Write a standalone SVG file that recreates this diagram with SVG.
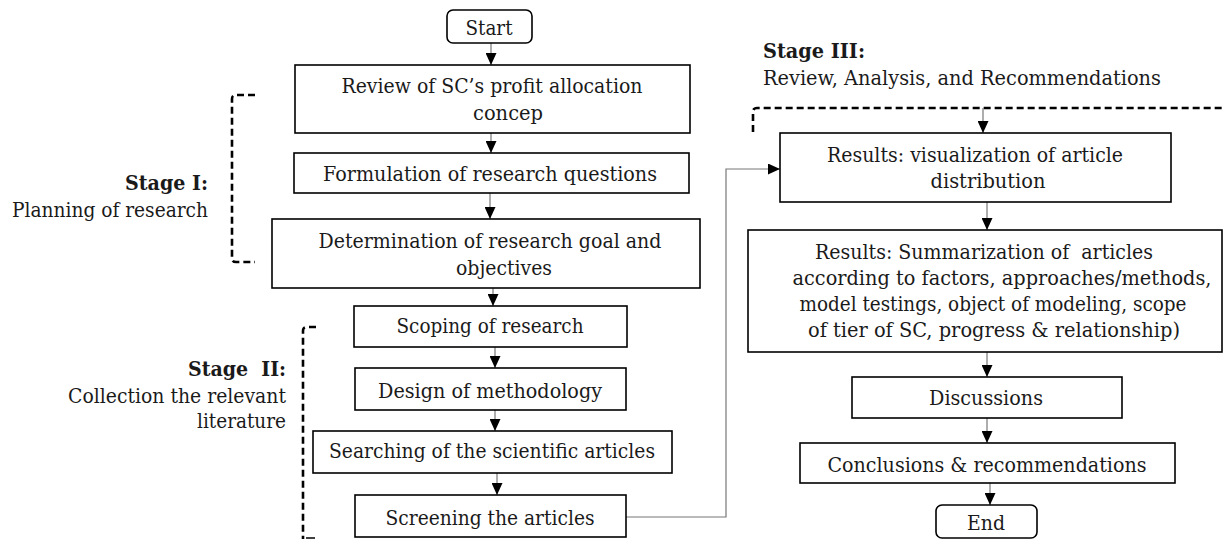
<svg xmlns="http://www.w3.org/2000/svg" width="1225" height="539" viewBox="0 0 1225 539">
<style>
.box{fill:#fff;stroke:#000;stroke-width:1.6}
.t{font-family:"DejaVu Serif","Liberation Serif",serif;font-size:20px;fill:#1a1a1a;text-anchor:middle}
.lbl{font-family:"DejaVu Serif","Liberation Serif",serif;font-size:20px;fill:#1a1a1a}
.b{font-weight:bold}
.c{fill:none;stroke:#777;stroke-width:1.2}
.d{fill:none;stroke:#000;stroke-width:2.6;stroke-dasharray:7,4}
</style>
<defs>
<marker id="ah" viewBox="0 0 12 11" refX="12" refY="5.5" markerWidth="12" markerHeight="11" markerUnits="userSpaceOnUse" orient="auto">
<path d="M0,0 L12,5.5 L0,11 Z" fill="#000"/>
</marker>
</defs>

<g id="brackets">
<path class="d" d="M255,95 L236,95 Q232,95 232,99 L232,258 Q232,262 236,262 L255,262"/>
<path class="d" d="M316,327 L307,327 Q303,327 303,331 L303,539"/>
<path d="M306,538 L315,538" stroke="#000" stroke-width="1.5"/>
<path class="d" d="M753,132 L753,112 Q753,108 757,108 L1225,108"/>
</g>

<g id="labels">
<text class="lbl b" x="208" y="190" text-anchor="end" textLength="83" lengthAdjust="spacingAndGlyphs">Stage I:</text>
<text class="lbl" x="208" y="217" text-anchor="end" textLength="196" lengthAdjust="spacingAndGlyphs">Planning of research</text>
<text class="lbl b" x="286" y="376" text-anchor="end" textLength="98" lengthAdjust="spacingAndGlyphs" xml:space="preserve">Stage  II:</text>
<text class="lbl" x="286" y="403" text-anchor="end" textLength="218" lengthAdjust="spacingAndGlyphs">Collection the relevant</text>
<text class="lbl" x="286" y="428" text-anchor="end" textLength="89" lengthAdjust="spacingAndGlyphs">literature</text>
<text class="lbl b" x="763" y="58" textLength="102" lengthAdjust="spacingAndGlyphs">Stage III:</text>
<text class="lbl" x="763" y="85" textLength="398" lengthAdjust="spacingAndGlyphs">Review, Analysis, and Recommendations</text>
</g>

<g id="connectors">
<path class="c" d="M491,43 L491,65" marker-end="url(#ah)"/>
<path class="c" d="M491,133 L491,153" marker-end="url(#ah)"/>
<path class="c" d="M490,193 L490,219" marker-end="url(#ah)"/>
<path class="c" d="M493,288 L493,306" marker-end="url(#ah)"/>
<path class="c" d="M495,347 L495,368" marker-end="url(#ah)"/>
<path class="c" d="M495,410 L495,431" marker-end="url(#ah)"/>
<path class="c" d="M497,473 L497,495" marker-end="url(#ah)"/>
<path class="c" d="M626,517 L726,517 L726,169 L780,169" marker-end="url(#ah)"/>
<path class="c" d="M983,108 L983,133" marker-end="url(#ah)"/>
<path class="c" d="M987,202 L987,230" marker-end="url(#ah)"/>
<path class="c" d="M987,352 L987,377" marker-end="url(#ah)"/>
<path class="c" d="M987,418 L987,443" marker-end="url(#ah)"/>
<path class="c" d="M990,483 L990,505" marker-end="url(#ah)"/>
</g>

<g id="start">
<rect class="box" x="447" y="10" width="85" height="33" rx="6"/>
<text class="t" x="489" y="35" textLength="47" lengthAdjust="spacingAndGlyphs">Start</text>
</g>
<g id="review">
<rect class="box" x="295" y="65" width="395" height="68"/>
<text class="t" x="492" y="93" textLength="301" lengthAdjust="spacingAndGlyphs">Review of SC’s profit allocation</text>
<text class="t" x="508" y="120" textLength="70" lengthAdjust="spacingAndGlyphs">concep</text>
</g>
<g id="formulation">
<rect class="box" x="294" y="153" width="395" height="40"/>
<text class="t" x="490" y="181" textLength="334" lengthAdjust="spacingAndGlyphs">Formulation of research questions</text>
</g>
<g id="determination">
<rect class="box" x="272" y="219" width="428" height="69"/>
<text class="t" x="490" y="248" textLength="343" lengthAdjust="spacingAndGlyphs">Determination of research goal and</text>
<text class="t" x="504" y="275" textLength="96" lengthAdjust="spacingAndGlyphs">objectives</text>
</g>
<g id="scoping">
<rect class="box" x="354" y="306" width="273" height="41"/>
<text class="t" x="490" y="333" textLength="187" lengthAdjust="spacingAndGlyphs">Scoping of research</text>
</g>
<g id="design">
<rect class="box" x="355" y="368" width="271" height="42"/>
<text class="t" x="490" y="398" textLength="224" lengthAdjust="spacingAndGlyphs">Design of methodology</text>
</g>
<g id="searching">
<rect class="box" x="313" y="431" width="359" height="42"/>
<text class="t" x="492" y="458" textLength="326" lengthAdjust="spacingAndGlyphs">Searching of the scientific articles</text>
</g>
<g id="screening">
<rect class="box" x="355" y="495" width="271" height="42"/>
<text class="t" x="490" y="525" textLength="209" lengthAdjust="spacingAndGlyphs">Screening the articles</text>
</g>
<g id="results-vis">
<rect class="box" x="780" y="133" width="391" height="69"/>
<text class="t" x="975" y="162" textLength="296" lengthAdjust="spacingAndGlyphs">Results: visualization of article</text>
<text class="t" x="988" y="188" textLength="115" lengthAdjust="spacingAndGlyphs">distribution</text>
</g>
<g id="results-sum">
<rect class="box" x="748" y="230" width="474" height="122"/>
<text class="t" x="984" y="259" textLength="338" lengthAdjust="spacingAndGlyphs" xml:space="preserve">Results: Summarization of  articles</text>
<text class="t" x="1002" y="285" textLength="419" lengthAdjust="spacingAndGlyphs">according to factors, approaches/methods,</text>
<text class="t" x="993" y="311" textLength="387" lengthAdjust="spacingAndGlyphs">model testings, object of modeling, scope</text>
<text class="t" x="994" y="337" textLength="372" lengthAdjust="spacingAndGlyphs">of tier of SC, progress &amp; relationship)</text>
</g>
<g id="discussions">
<rect class="box" x="852" y="377" width="270" height="41"/>
<text class="t" x="986" y="405" textLength="114" lengthAdjust="spacingAndGlyphs">Discussions</text>
</g>
<g id="conclusions">
<rect class="box" x="800" y="443" width="375" height="40"/>
<text class="t" x="987" y="472" textLength="319" lengthAdjust="spacingAndGlyphs">Conclusions &amp; recommendations</text>
</g>
<g id="end">
<rect class="box" x="936" y="505" width="101" height="33" rx="6"/>
<text class="t" x="986" y="530" textLength="38" lengthAdjust="spacingAndGlyphs">End</text>
</g>
</svg>
